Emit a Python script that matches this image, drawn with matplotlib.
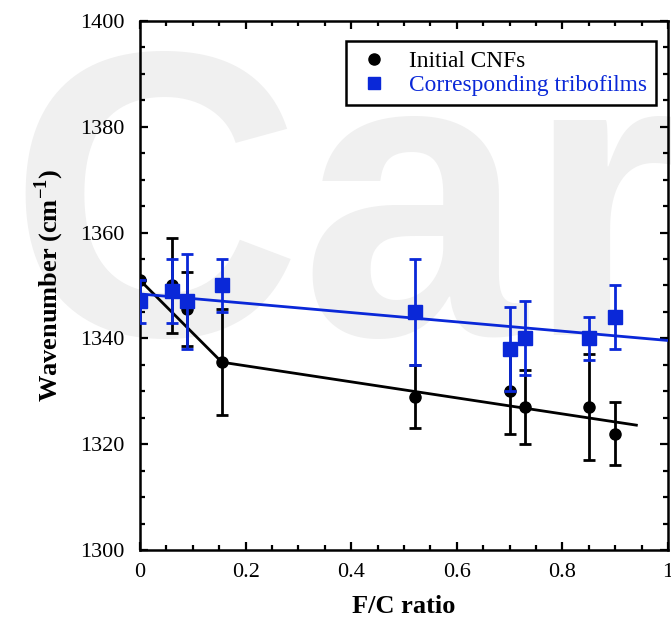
import matplotlib.pyplot as plt
from matplotlib.lines import Line2D
import numpy as np

plt.rcParams['font.family'] = ['Liberation Serif', 'DejaVu Serif']
plt.rcParams['mathtext.fontset'] = 'custom'
plt.rcParams['mathtext.rm'] = 'Liberation Serif'
plt.rcParams['mathtext.bf'] = 'Liberation Serif:bold'

# Initial CNFs
x_cnf = [0.0, 0.06, 0.09, 0.155, 0.52, 0.70, 0.73, 0.85, 0.90]
y_cnf = [1351, 1350, 1345.5, 1335.5, 1329, 1330, 1327, 1327, 1322]
e_cnf = [0, 9, 7, 10, 6, 8, 7, 10, 6]

# Corresponding tribofilms
x_tri = [0.0, 0.06, 0.09, 0.155, 0.52, 0.70, 0.73, 0.85, 0.90]
y_tri = [1347, 1349, 1347, 1350, 1345, 1338, 1340, 1340, 1344]
e_tri = [4, 6, 9, 5, 10, 8, 7, 4, 6]

# fitted lines
fit_cnf_x = [0.0, 0.155, 0.94]
fit_cnf_y = [1351, 1335.5, 1323.6]
fit_tri_x = [0.0, 1.0]
fit_tri_y = [1348.4, 1339.6]

blue = '#0a28d8'

fig = plt.figure(figsize=(6.71, 6.21), dpi=100)
ax = fig.add_axes([0.2086, 0.1143, 0.787, 0.852])
ax.patch.set_alpha(0)

# faint watermark behind everything
fig.text(0.012, 0.46, 'Car', fontsize=292, color='#f0f0f0', family='Liberation Sans',
         fontweight='bold', ha='left', va='baseline', zorder=-5)

ax.plot(fit_cnf_x, fit_cnf_y, color='black', lw=2, zorder=2)
ax.errorbar(x_cnf, y_cnf, yerr=e_cnf, fmt='o', color='black', ms=8,
            elinewidth=2, capsize=4, capthick=2, zorder=3)
ax.plot(fit_tri_x, fit_tri_y, color=blue, lw=2, zorder=4)
ax.errorbar(x_tri, y_tri, yerr=e_tri, fmt='s', color=blue, ms=10,
            elinewidth=2, capsize=4, capthick=2, zorder=5)

ax.set_xlim(0, 1)
ax.set_ylim(1300, 1400)
ax.set_xticks(np.arange(0, 1.01, 0.2))
ax.set_xticklabels(['0', '0.2', '0.4', '0.6', '0.8', '1'])
ax.set_xticks(np.arange(0, 1.01, 0.05), minor=True)
ax.set_yticks(np.arange(1300, 1401, 20))
ax.set_yticks(np.arange(1300, 1401, 5), minor=True)
ax.tick_params(which='both', direction='in', top=True, right=True, width=1.6,
               labelsize=16)
ax.tick_params(which='major', length=6)
ax.tick_params(which='minor', length=3.5)
ax.tick_params(axis='y', which='major', pad=11)
ax.tick_params(axis='x', which='major', pad=9)
for s in ax.spines.values():
    s.set_linewidth(1.8)

ax.set_xlabel('F/C ratio', fontsize=19, fontweight='bold', labelpad=10)
ax.set_ylabel('Wavenumber (cm$^{\\mathbf{-1}}$)', fontsize=19, fontweight='bold',
              labelpad=10)

handles = [Line2D([], [], ls='none', marker='o', color='black', ms=8),
           Line2D([], [], ls='none', marker='s', color=blue, ms=9)]
leg = ax.legend(handles, ['Initial CNFs', 'Corresponding tribofilms'],
                loc='upper right', bbox_to_anchor=(0.977, 0.962), fontsize=16.8,
                frameon=True, fancybox=False, edgecolor='black', framealpha=1,
                handletextpad=0.7, borderpad=0.4, labelspacing=0.12,
                handlelength=1.6, borderaxespad=0)
leg.get_frame().set_linewidth(1.8)
for t, c in zip(leg.get_texts(), ['black', blue]):
    t.set_color(c)

fig.savefig('out.png', dpi=100)
